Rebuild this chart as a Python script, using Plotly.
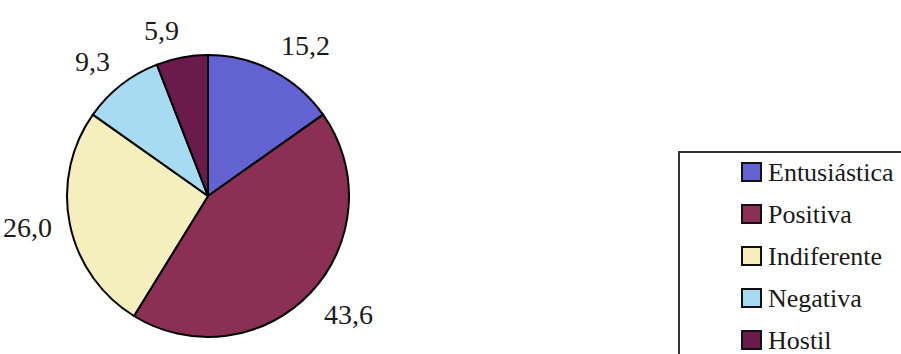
import math
import plotly.graph_objects as go

# Attitude distribution (%)
labels = ["Entusiástica", "Positiva", "Indiferente", "Negativa", "Hostil"]
values = [15.2, 43.6, 26.0, 9.3, 5.9]
colors = ["#6262d2", "#8c2f55", "#f4efbd", "#a6dbf1", "#6a1a4b"]

W, H = 901, 354
FONT = '"Liberation Serif", "Times New Roman", "DejaVu Serif", serif'

# pie geometry in pixels
cx, cy, r = 208, 196, 141

fig = go.Figure(go.Pie(
    labels=labels,
    values=values,
    sort=False,
    direction="clockwise",
    rotation=0,
    marker=dict(colors=colors, line=dict(color="#000000", width=2)),
    textinfo="none",
    hoverinfo="label+value",
    showlegend=False,
    domain=dict(x=[(cx - r) / W, (cx + r) / W],
                y=[(H - cy - r) / H, (H - cy + r) / H]),
))


def px(x, y):
    return x / W, 1 - y / H


# value labels: anchored at a point just outside each slice's mid-angle,
# with the text box hanging off that point away from the pie
label_fs = 28
anchor_r = 159
annotations = []
cum = 0.0
total = sum(values)
for v in values:
    mid = (cum + v / 2) / total * 2 * math.pi
    cum += v
    txt = f"{v:.1f}".replace(".", ",")
    n_digits = sum(ch.isdigit() for ch in txt)
    w = (0.5 * n_digits + 0.25) * label_fs
    h = 0.68 * label_fs
    s, c = math.sin(mid), math.cos(mid)
    ax, ay = cx + anchor_r * s, cy - anchor_r * c
    sx = 1 if s > 0.1 else (-1 if s < -0.1 else 0)
    sy = -1 if c > 0.35 else (1 if c < -0.35 else 0)
    lx, ly = px(ax + sx * w / 2, ay + sy * h / 2)
    annotations.append(dict(
        x=lx, y=ly, xref="paper", yref="paper", text=txt, showarrow=False,
        xanchor="center", yanchor="middle",
        font=dict(family=FONT, size=label_fs, color="#1a1a1a"),
    ))

# legend box drawn by hand
shapes = []
bx0, by0 = 679, 152
x0, y0 = px(bx0, by0)
x1, y1 = px(W + 10, H + 10)
shapes.append(dict(type="rect", xref="paper", yref="paper",
                   x0=x0, y0=y1, x1=x1, y1=y0,
                   line=dict(color="#333333", width=2), fillcolor="white",
                   layer="below"))

row0, row_step = 172, 42
sq_x0, sq_w, sq_h = 742, 19, 18
text_x = 766
legend_fs = 26
for i, (lab, col) in enumerate(zip(labels, colors)):
    yc = row0 + i * row_step
    a0, b0 = px(sq_x0, yc - sq_h / 2)
    a1, b1 = px(sq_x0 + sq_w, yc + sq_h / 2)
    shapes.append(dict(type="rect", xref="paper", yref="paper",
                       x0=a0, y0=b1, x1=a1, y1=b0,
                       line=dict(color="#111111", width=2), fillcolor=col))
    tx, ty = px(text_x, yc)
    annotations.append(dict(
        x=tx, y=ty, xref="paper", yref="paper", text=lab, showarrow=False,
        xanchor="left", yanchor="middle",
        font=dict(family=FONT, size=legend_fs, color="#1a1a1a"),
    ))

fig.update_layout(
    width=W, height=H,
    margin=dict(l=0, r=0, t=0, b=0),
    paper_bgcolor="white", plot_bgcolor="white",
    font=dict(family=FONT),
    annotations=annotations,
    shapes=shapes,
)

fig.write_html("out.html")
